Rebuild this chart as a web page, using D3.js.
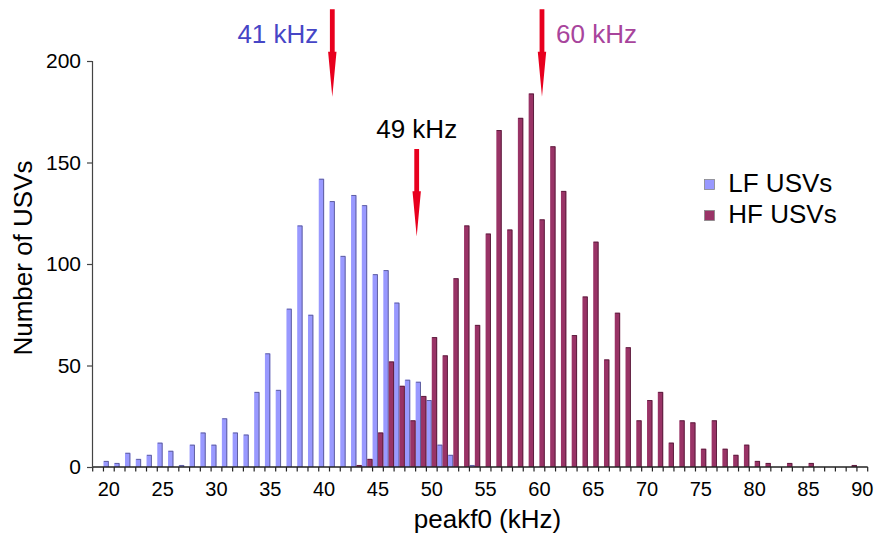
<!DOCTYPE html>
<html><head><meta charset="utf-8">
<script src="https://cdn.jsdelivr.net/npm/d3@7"></script>
<style>body{margin:0;background:#fff}svg{display:block}text{font-family:"Liberation Sans",Arial,sans-serif}</style>
</head><body><svg id="c" width="877" height="539"></svg>
<script>
// kHz bins
const categories = [19,20,21,22,23,24,25,26,27,28,29,30,31,32,33,34,35,36,37,38,39,40,41,42,43,44,45,46,47,48,49,50,51,52,53,54,
  55,56,57,58,59,60,61,62,63,64,65,66,67,68,69,70,71,72,73,74,75,76,77,78,79,80,81,82,83,84,85,86,87,88,89,90];
const lfValues = [0,3,2,7,4,6,12,8,1,11,17,11,24,17,16,37,56,38,78,119,75,142,131,104,134,129,95,97,81,43,42,33,11,6,0,1,
  0,0,0,0,0,0,0,0,0,0,0,0,0,0,0,0,0,0,0,0,0,0,0,0,0,0,0,0,0,0,0,0,0,0,0,0];
const hfValues = [0,0,0,0,0,0,0,0,0,0,0,0,0,0,0,0,0,0,0,0,0,0,0,0,1,4,17,52,40,23,35,64,55,93,119,70,
  115,166,117,172,184,122,158,136,65,84,111,53,76,59,23,33,37,12,23,22,9,23,9,6,11,3,2,0,2,0,2,0,0,0,1,0];
const seriesNames = ["LF USVs","HF USVs"];
const seriesColors = ["#9999ff","#993366"];
const seriesEdges = ["#4d4d80","#4a1a33"];
const xTickLabels = [20,25,30,35,40,45,50,55,60,65,70,75,80,85,90];
const yTickValues = [0,50,100,150,200];
// annotations: label, kHz position of arrow, arrow top / tip (in count units)
const annotations = [
  {label:"41 kHz", at:40.76, top:225.5, tip:182.4, color:"#4646c6", side:"left"},
  {label:"49 kHz", at:48.6, top:156.7, tip:113.6, color:"#000000", side:"top"},
  {label:"60 kHz", at:60.24, top:225.5, tip:182.4, color:"#a8449c", side:"right"}
];

const svg = d3.select("#c");
const x = d3.scaleBand().domain(categories).range([92.7, 867.7]).padding(0);
const xs = d3.scaleBand().domain([0,1]).range([0, x.bandwidth()]);
const xLin = d3.scaleLinear().domain([categories[0]-0.5, categories[categories.length-1]+0.5]).range([92.7, 867.7]);
const y = d3.scaleLinear().domain([0,200]).range([467,61]);

// bars
[lfValues, hfValues].forEach((vals, si) => {
  const g = svg.append("g");
  const data = categories.map((c,i)=>({c, v:vals[i]})).filter(d=>d.v>0);
  g.selectAll("rect").data(data).join("rect")
    .attr("x", d=>x(d.c)+xs(si)).attr("width", xs.bandwidth())
    .attr("y", d=>y(d.v)).attr("height", d=>y(0)-y(d.v))
    .attr("fill", seriesColors[si]);
  g.selectAll("path").data(data).join("path")
    .attr("d", d=>{const l=x(d.c)+xs(si)+0.5, r=l+xs.bandwidth()-1, t=y(d.v)+0.5; return `M${l},${t}H${r}V${y(0)}`;})
    .attr("fill","none").attr("stroke", seriesEdges[si]).attr("stroke-width",1).attr("opacity",0.75);
});

// x axis
svg.append("line").attr("x1",92.7).attr("x2",867.7).attr("y1",y(0)).attr("y2",y(0)).attr("stroke","#222").attr("stroke-width",1.3);
svg.append("g").selectAll("line").data(categories.concat([categories[categories.length-1]+1])).join("line")
  .attr("x1", d=>xLin(d-0.5)).attr("x2", d=>xLin(d-0.5)).attr("y1", y(0)).attr("y2", y(0)+4.5)
  .attr("stroke","#222").attr("stroke-width",1.2);
svg.append("g").selectAll("text").data(xTickLabels).join("text")
  .attr("x", d=>x(d)+x.bandwidth()/2).attr("y", 495.5).attr("text-anchor","middle")
  .attr("font-size",20).attr("fill","#000").text(d=>d);

// y axis
const yAxis = svg.append("g").attr("transform","translate(92,0)")
  .call(d3.axisLeft(y).tickValues(yTickValues).tickSize(5).tickPadding(6));
yAxis.select(".domain").attr("stroke","#444").attr("stroke-width",1.2);
yAxis.selectAll(".tick line").attr("stroke","#444").attr("stroke-width",1.2);
yAxis.selectAll(".tick text").attr("font-size",21).attr("fill","#000").attr("font-family","Liberation Sans, Arial, sans-serif");

// axis titles
svg.append("text").attr("transform","translate(32,258) rotate(-90)").attr("text-anchor","middle")
  .attr("font-size",26).attr("fill","#000").text("Number of USVs");
svg.append("text").attr("x",487.5).attr("y",528).attr("text-anchor","middle")
  .attr("font-size",26).attr("fill","#000").text("peakf0 (kHz)");

// arrows + labels
annotations.forEach(a=>{
  const cx = xLin(a.at), yt = y(a.top), yp = y(a.tip);
  const hs = yt + (yp-yt)*0.485;
  svg.append("path")
    .attr("d", `M${cx-2.4},${yt}H${cx+2.4}V${hs}H${cx+4.2}L${cx},${yp}L${cx-4.2},${hs}H${cx-2.4}Z`)
    .attr("fill","#e8001e");
  const t = svg.append("text").attr("font-size",26).attr("fill",a.color).text(a.label);
  if (a.side==="left") t.attr("x",cx-14).attr("y",43.3).attr("text-anchor","end");
  else if (a.side==="right") t.attr("x",cx+14).attr("y",43.3).attr("text-anchor","start");
  else t.attr("x",cx).attr("y",yt-10.7).attr("text-anchor","middle");
});

// legend
const lg = svg.append("g");
seriesNames.forEach((n,i)=>{
  lg.append("rect").attr("x",704.5).attr("y",179.5+i*31).attr("width",10).attr("height",10)
    .attr("fill",seriesColors[i]).attr("stroke","#888").attr("stroke-width",0.8);
  lg.append("text").attr("x",728.3).attr("y",191.7+i*31).attr("font-size",26).attr("fill","#000").text(n);
});
</script></body></html>
